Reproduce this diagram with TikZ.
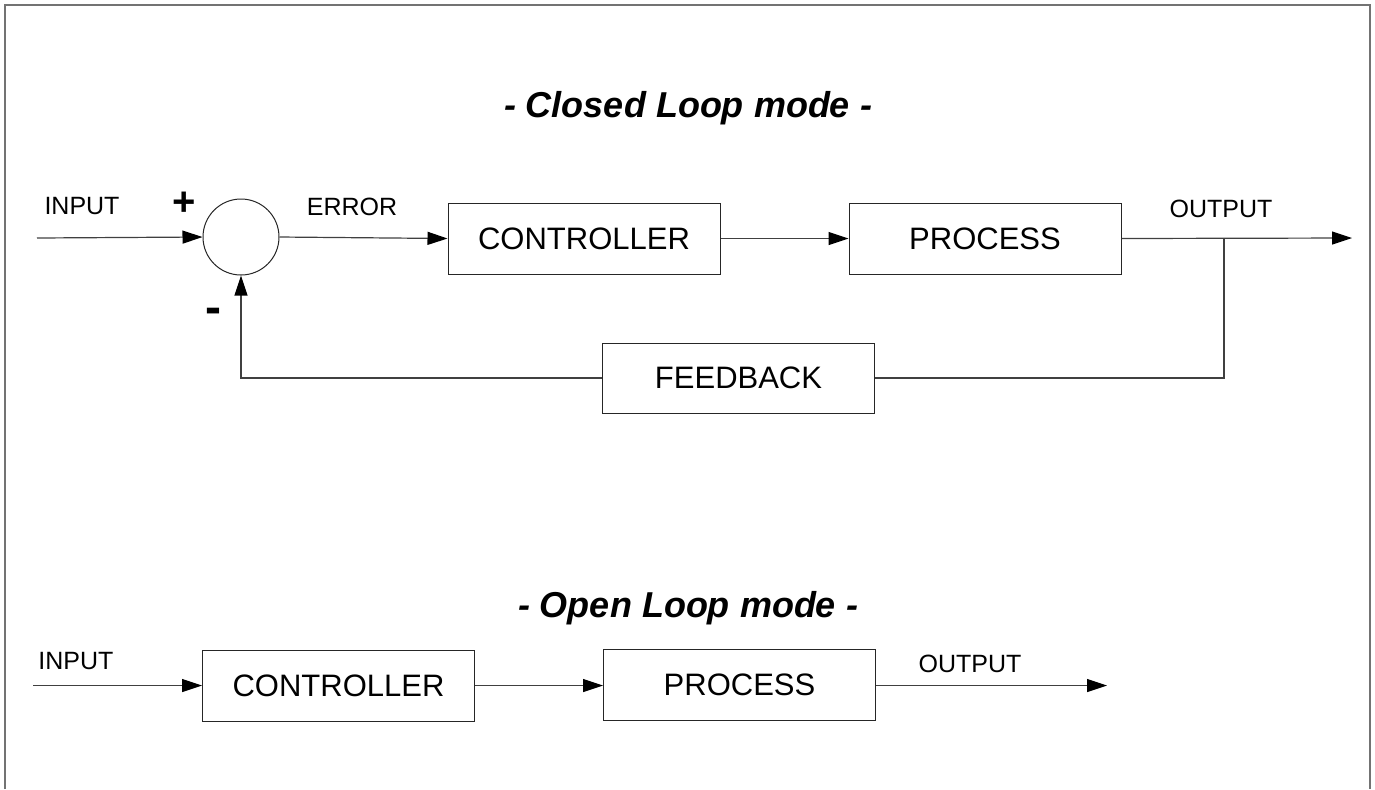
\documentclass[tikz,border=0pt]{standalone}
\usepackage{fontspec}
\setmainfont{Liberation Sans}
\usetikzlibrary{arrows.meta, calc}

\tikzset{
  block/.style={draw=black!85, line width=0.5pt, minimum width=136pt, minimum height=35.5pt, inner sep=0pt, font=\fontsize{15.5}{18}\selectfont},
  sumnode/.style={draw=black!85, circle, line width=0.5pt, minimum size=38pt, inner sep=0pt},
  lbl/.style={inner sep=0pt, font=\fontsize{12.5}{15}\selectfont},
  ttl/.style={inner sep=0pt, font=\fontsize{18}{21}\selectfont\bfseries\itshape},
  arr/.style={-{Triangle[length=10pt, width=6.5pt, black]}},
  wire/.style={line width=0.6pt, draw=black!75}
}

\begin{document}
\begin{tikzpicture}[x=0.5pt, y=-0.5pt]
                \useasboundingbox (0,0) rectangle (1375,789);
                \draw[line width=1pt, black!55] (5,789) -- (5,5) -- (1370,5) -- (1370,789);
                % closed loop
                \node[ttl] (title1) at (688,108) {- Closed Loop mode -};
                \coordinate (in1) at (37,238);
                \coordinate (out1) at (1352,238);
                \coordinate (br) at (1224,238);
                \node[sumnode] (sum) at (241,237) {};
                \node[block] (ctrl1) at (584,238.5) {CONTROLLER};
                \node[block] (proc1) at (985,238.5) {PROCESS};
                \node[block, minimum height=35pt] (fb) at (738.5,378) {FEEDBACK};
                \node[lbl] (inlbl1) at (82,206) {INPUT};
                \node[lbl] (errlbl) at (352,207) {ERROR};
                \node[lbl] (outlbl1) at (1221,209) {OUTPUT};
                \node[inner sep=0pt, font=\fontsize{20}{20}\selectfont\bfseries] (plus) at (184,204) {+};
                \node[inner sep=0pt, font=\fontsize{24}{24}\selectfont\bfseries] (minus) at (213,316) {-};
                \draw[wire, arr] (in1) -- (sum.west);
                \draw[wire, arr] (sum.east) -- (ctrl1.west);
                \draw[wire, arr] (ctrl1.east) -- (proc1.west);
                \draw[wire, arr] (proc1.east) -- (out1);
                \draw[wire] (br) |- (fb.east);
                \draw[wire, arr] (fb.west) -| (sum.south);
                % open loop
                \node[ttl] (title2) at (688,608) {- Open Loop mode -};
                \coordinate (in2) at (33,685.5);
                \coordinate (out2) at (1107,685.5);
                \node[block] (ctrl2) at (338.5,686) {CONTROLLER};
                \node[block] (proc2) at (739.5,685) {PROCESS};
                \node[lbl] (inlbl2) at (76,661) {INPUT};
                \node[lbl] (outlbl2) at (970,664) {OUTPUT};
                \draw[wire, arr] (in2) -- (ctrl2.west |- in2);
                \draw[wire, arr] (ctrl2.east |- in2) -- (proc2.west |- in2);
                \draw[wire, arr] (proc2.east |- in2) -- (out2);
            \end{tikzpicture}
\end{document}
